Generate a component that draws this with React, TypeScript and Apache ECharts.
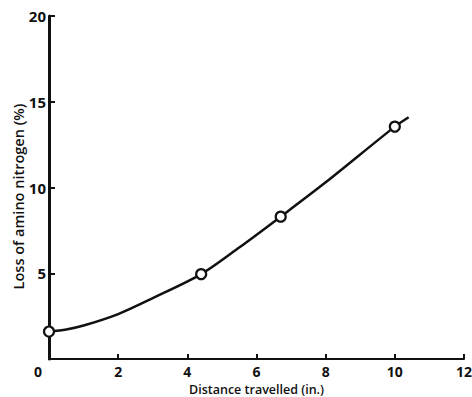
import React, { useEffect, useRef } from "react";
import * as echarts from "echarts";

const observedDistance = [0, 4.4, 6.7, 10.0];
const observedLoss = [1.6, 4.95, 8.3, 13.55];
const curveDistance = [0, 0.5, 1, 2, 3, 4.4, 5.5, 6.7, 8, 10, 10.4];
const curveLoss = [1.6, 1.72, 1.95, 2.62, 3.55, 4.95, 6.5, 8.3, 10.3, 13.55, 14.1];
const xTicks = [0, 2, 4, 6, 8, 10, 12];
const yTicks = [0, 5, 10, 15, 20];

const FONT = "'Open Sans', 'DejaVu Sans', sans-serif";

export default function App() {
  const ref = useRef<HTMLDivElement>(null);
  useEffect(() => {
    if (!ref.current) return;
    const chart = echarts.init(ref.current, undefined, { renderer: "svg" });
    chart.setOption({
      animation: false,
      backgroundColor: "#ffffff",
      grid: { left: 49, right: 8, top: 16, bottom: 38, containLabel: false, outerBoundsMode: "none" },
      xAxis: {
        type: "value",
        min: xTicks[0],
        max: xTicks[xTicks.length - 1],
        interval: 2,
        name: "Distance travelled (in.)",
        nameLocation: "middle",
        nameGap: 19,
        nameTextStyle: { fontFamily: FONT, fontSize: 12.5, color: "#111", fontWeight: 600 },
        axisLine: { show: true, lineStyle: { color: "#111", width: 2 } },
        axisTick: { show: true, inside: true, length: 5, lineStyle: { color: "#111", width: 2 } },
        axisLabel: {
          fontFamily: FONT,
          fontSize: 14,
          fontWeight: "bold",
          color: "#111",
          margin: 5,
          formatter: (v: number) => (v === 0 ? "{z|0}" : String(v)),
          rich: { z: { fontFamily: FONT, fontSize: 14, fontWeight: "bold", color: "#111", padding: [0, 22, 0, 0] } },
        },
        splitLine: { show: false },
      },
      yAxis: {
        type: "value",
        min: yTicks[0],
        max: yTicks[yTicks.length - 1],
        interval: 5,
        name: "Loss of amino nitrogen (%)",
        nameLocation: "middle",
        nameGap: 23,
        nameMoveOverlap: false,
        nameTextStyle: { fontFamily: FONT, fontSize: 14.5, color: "#111", fontWeight: 600, padding: [0, 18, 0, 0] },
        axisLine: { show: true, lineStyle: { color: "#111", width: 3 } },
        axisTick: { show: true, inside: true, length: 6, lineStyle: { color: "#111", width: 2 } },
        axisLabel: {
          fontFamily: FONT,
          fontSize: 15,
          fontWeight: "bold",
          color: "#111",
          margin: 3,
          showMinLabel: false,
          formatter: (v: number) => (v === 0 ? "" : String(v)),
        },
        splitLine: { show: false },
      },
      series: [
        {
          type: "line",
          data: curveDistance.map((x, i) => [x, curveLoss[i]]),
          smooth: 0.3,
          showSymbol: false,
          lineStyle: { color: "#111", width: 2.5 },
          z: 2,
        },
        {
          type: "scatter",
          data: observedDistance.map((x, i) => [x, observedLoss[i]]),
          symbol: "circle",
          symbolSize: 10,
          itemStyle: { color: "#ffffff", borderColor: "#111", borderWidth: 2.2, opacity: 1 },
          z: 3,
        },
      ],
    });
    return () => chart.dispose();
  }, []);
  return <div ref={ref} style={{ width: 472, height: 397, position: "absolute", left: 0, top: 0 }} />;
}
